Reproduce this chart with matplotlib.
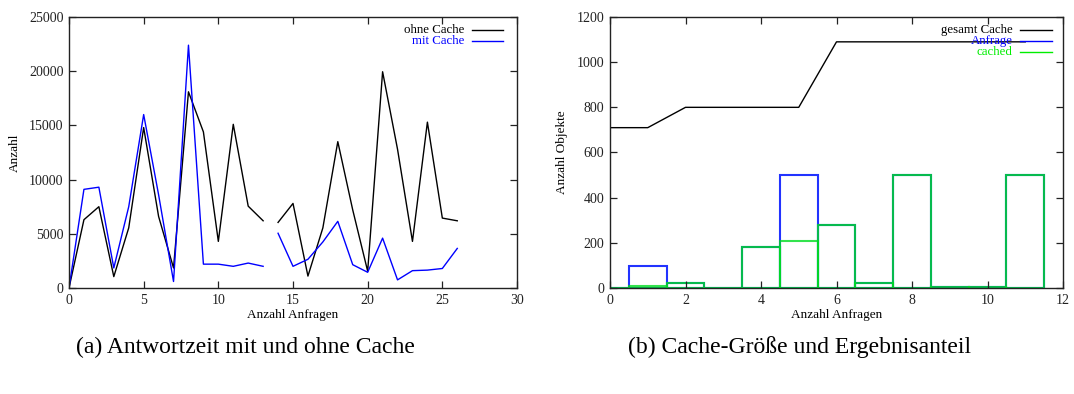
import matplotlib as mpl
mpl.use('Agg')
import numpy as np
import matplotlib.pyplot as plt

plt.rcParams['font.family'] = ['Liberation Serif', 'DejaVu Serif']

# --- (a) Antwortzeit: two runs, gap between index 13 and 14
anfragen_a = list(range(27))
ohne_cache = [0, 6300, 7500, 1050, 5550, 14800, 6600, 1850, 18100, 14400, 4300, 15100,
              7550, 6200, 6050, 7800, 1100, 5550, 13500, 7200, 1550, 19950, 12800,
              4300, 15300, 6450, 6200]
mit_cache = [0, 9100, 9300, 1850, 7500, 16000, 8600, 600, 22400, 2200, 2200, 2000,
             2300, 2000, 5050, 2000, 2650, 4250, 6150, 2150, 1450, 4600, 750,
             1600, 1650, 1800, 3650]
split = 14

# --- (b) Cache-Groesse
anfragen_b = list(range(12))
gesamt_cache = [710, 710, 800, 800, 800, 800, 1090, 1090, 1090, 1090, 1090, 1090]
anfrage = [0, 96, 24, 0, 180, 500, 278, 24, 500, 6, 3, 500]
cached = [0, 10, 24, 0, 180, 208, 278, 24, 500, 6, 3, 500]

W, H = 1074, 394
fig = plt.figure(figsize=(W / 100, H / 100), dpi=100)

ax1 = fig.add_axes([69 / W, 1 - 288 / H, 448 / W, 271 / H])
ax2 = fig.add_axes([610 / W, 1 - 288 / H, 453 / W, 271 / H])

tick_fs = 10
lab_fs = 9.5
leg_fs = 9.3


def style(ax):
    for s in ax.spines.values():
        s.set_linewidth(1.0)
        s.set_color('#222222')
    ax.tick_params(direction='in', length=5, width=0.9, top=True, right=True,
                   labelsize=tick_fs, pad=4, colors='#222222')


# left
x = anfragen_a
ax1.plot(x[:split], ohne_cache[:split], color='black', lw=1.0)
ax1.plot(x[split:], ohne_cache[split:], color='black', lw=1.0)
ax1.plot(x[:split], mit_cache[:split], color='#0000ff', lw=1.0)
ax1.plot(x[split:], mit_cache[split:], color='#0000ff', lw=1.0)
ax1.set_xlim(0, 30)
ax1.set_ylim(0, 25000)
ax1.set_xticks(range(0, 31, 5))
ax1.set_yticks(range(0, 25001, 5000))
ax1.set_xlabel('Anzahl Anfragen', fontsize=lab_fs, labelpad=2)
ax1.set_ylabel('Anzahl', fontsize=lab_fs, labelpad=6)
style(ax1)

for i, (lab, col) in enumerate([('ohne Cache', 'black'), ('mit Cache', '#0000ff')]):
    yy = 0.953 - i * 0.041
    ax1.text(0.882, yy, lab, color=col, fontsize=leg_fs, ha='right', va='center',
             transform=ax1.transAxes)
    ax1.plot([0.900, 0.969], [yy, yy], color=col, lw=1.0, transform=ax1.transAxes)

# right
ax2.bar(anfragen_b, anfrage, width=1.0, fill=False, edgecolor='#2233ff', lw=1.5)
ax2.bar(anfragen_b, cached, width=1.0, fill=False, edgecolor='#00dd22', lw=1.5, alpha=0.8)
ax2.plot(anfragen_b, gesamt_cache, color='black', lw=1.0)
ax2.set_xlim(0, 12)
ax2.set_ylim(0, 1200)
ax2.set_xticks(range(0, 13, 2))
ax2.set_yticks(range(0, 1201, 200))
ax2.set_xlabel('Anzahl Anfragen', fontsize=lab_fs, labelpad=2)
ax2.set_ylabel('Anzahl Objekte', fontsize=lab_fs, labelpad=6)
style(ax2)

for i, (lab, col) in enumerate([('gesamt Cache', 'black'), ('Anfrage', '#0000ff'),
                                ('cached', '#00ee00')]):
    yy = 0.953 - i * 0.041
    ax2.text(0.889, yy, lab, color=col, fontsize=leg_fs, ha='right', va='center',
             transform=ax2.transAxes)
    ax2.plot([0.906, 0.975], [yy, yy], color=col, lw=1.0, transform=ax2.transAxes)

fig.text(245 / W, 1 - 347 / H, '(a) Antwortzeit mit und ohne Cache', fontsize=17,
         ha='center', va='center')
fig.text(800 / W, 1 - 347 / H, '(b) Cache-Größe und Ergebnisanteil', fontsize=17,
         ha='center', va='center')

fig.savefig('out.png', dpi=100)
